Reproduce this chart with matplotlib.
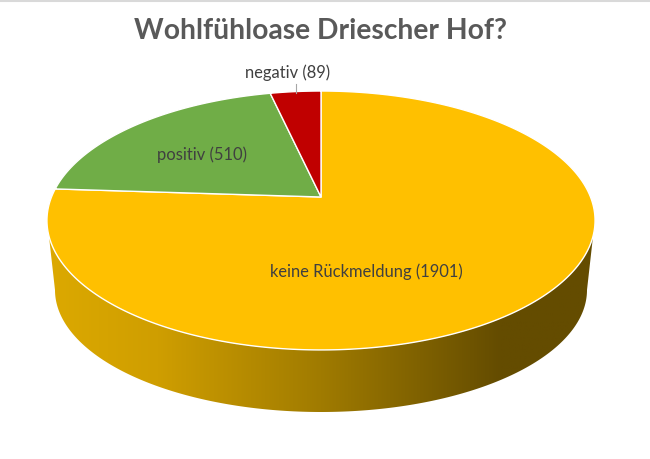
import numpy as np
import matplotlib
matplotlib.use('Agg')
import matplotlib.pyplot as plt
from matplotlib.colors import LinearSegmentedColormap
from matplotlib.patches import Polygon

labels = ['keine Rückmeldung', 'positiv', 'negativ']
values = [1901, 510, 89]
colors = ['#FFC000', '#70AD47', '#C00000']

plt.rcParams['font.family'] = ['Lato', 'DejaVu Sans']

# pie geometry in picture pixels
cx, cy = 321, 197
R, A, K = 269.5, 125.2, 0.1814


def project(theta):
    # theta is clockwise from 12 o'clock, the tilt makes the far side shorter
    u = np.sin(theta)
    v = np.cos(theta)
    return cx + R * u / (1 + K * v), cy - A * v / (1 + K * v)


fig = plt.figure(figsize=(6.5, 4.59), dpi=100)
ax = fig.add_axes([0, 0, 1, 1])
ax.set_xlim(0, 650)
ax.set_ylim(459, 0)
ax.axis('off')

ax.plot([0, 650], [0.5, 0.5], color='#d9d9d9', lw=1.5)

# side wall with the dark gradient
t = np.linspace(np.pi * 0.5 - 0.02, np.pi * 1.5 + 0.02, 200)
x_top, y_top = project(t)
keep = y_top >= 236
x_top, y_top = x_top[keep], y_top[keep]
s = np.linspace(np.pi, 0, 200)
x_bot = 321 + 266 * np.cos(s)
y_bot = 290 + 122 * np.sin(s)
wall = Polygon(np.r_[np.c_[x_top, y_top], np.c_[x_bot, y_bot]], closed=True,
               fc='none', ec='none')
ax.add_patch(wall)
cmap = LinearSegmentedColormap.from_list(
    'wall', [(0, '#DCA900'), (0.2, '#CF9E00'), (0.5, '#A07B00'),
             (0.83, '#644C00'), (1, '#644C00')])
grad = np.linspace(0, 1, 256).reshape(1, -1)
im = ax.imshow(grad, cmap=cmap, extent=[48, 594, 420, 225], aspect='auto', zorder=1)
im.set_clip_path(wall)
ax.set_xlim(0, 650)
ax.set_ylim(459, 0)

# top of the pie, clockwise from 12 o'clock
fracs = np.array(values) / sum(values)
edges = np.r_[0, np.cumsum(fracs)] * 2 * np.pi
for i in range(len(values)):
    t = np.linspace(edges[i], edges[i + 1], 300)
    xs, ys = project(t)
    ax.fill(np.r_[cx, xs], np.r_[cy, ys], fc=colors[i], ec='white', lw=1.0,
            joinstyle='round', zorder=2)

ax.text(321, 31, 'Wohlfühloase Driescher Hof?', ha='center', va='center',
        fontsize=20.3, fontweight='bold', color='#595959')
ax.text(366, 272, f'{labels[0]} ({values[0]})', ha='center', va='center',
        fontsize=11.9, color='#404040', zorder=3)
ax.text(202, 155, f'{labels[1]} ({values[1]})', ha='center', va='center',
        fontsize=11.9, color='#404040', zorder=3)
ax.text(288, 73, f'{labels[2]} ({values[2]})', ha='center', va='center',
        fontsize=11.9, color='#404040', zorder=3)
ax.plot([296, 296], [84, 93], color='#a6a6a6', lw=0.8, zorder=3)

fig.savefig('out.png', dpi=100)
